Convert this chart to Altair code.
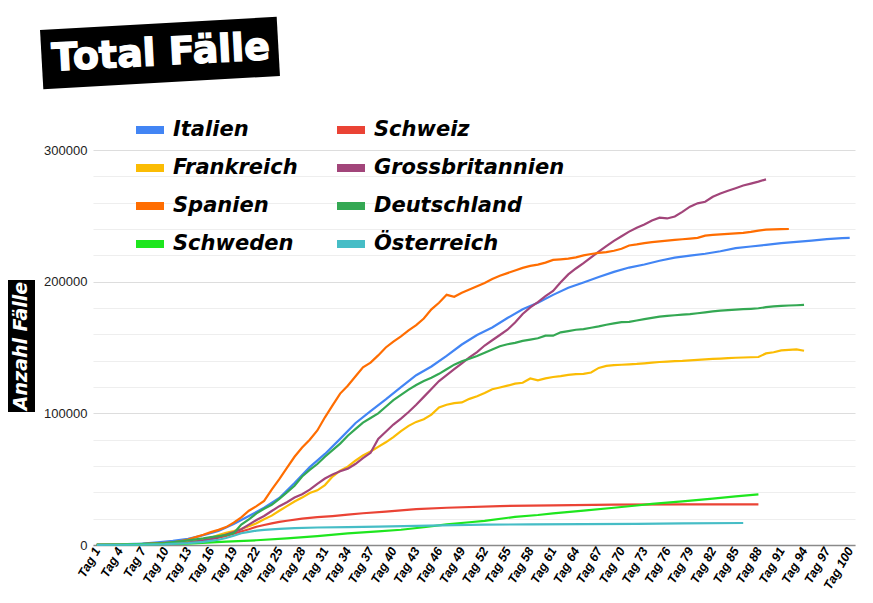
import altair as alt
import pandas as pd

titel = "Total Fälle"
y_titel = "Anzahl Fälle"

# Reihenfolge der Legende: Spalte für Spalte
laender = ["Italien", "Frankreich", "Spanien", "Schweden",
           "Schweiz", "Grossbritannien", "Deutschland", "Österreich"]
farben = ["#4285f4", "#fbbc04", "#ff6d01", "#1ee61e",
          "#ea4335", "#a2457a", "#34a853", "#46bdc6"]

x_ticks = list(range(1, 101, 3))
y_grid = list(range(0, 300001, 20000))

# Werte in Tausend Fällen
italien_tage = [1, 3, 5, 7, 9, 11, 13, 15, 17, 19, 21, 23, 25, 27, 29, 31, 33, 35, 37, 39,
                41, 43, 45, 47, 49, 51, 53, 55, 57, 59, 61, 63, 65, 67, 69, 71, 73, 75, 77, 79,
                81, 83, 85, 87, 89, 91, 93, 95, 97, 99, 100]
italien_tsd = [0.155, 0.322, 0.655, 1.128, 2.036, 3.089, 4.636, 7.375, 10.6, 15.9,
               22.0, 28.3, 35.713, 47.021, 59.138, 69.176, 80.589, 92.472, 101.739, 110.574,
               119.827, 128.948, 135.586, 143.626, 152.271, 159.516, 165.155, 172.434, 178.972, 183.957,
               189.973, 195.351, 199.414, 203.591, 207.428, 210.717, 213.013, 215.858, 218.268, 219.814,
               221.216, 223.096, 225.435, 226.699, 228.006, 229.327, 230.158, 231.139, 232.248, 232.997,
               233.197]

spanien_tage = [1, 4, 7] + list(range(10, 93))
spanien_tsd = [0.12, 0.26, 0.6,
               1.7, 2.1, 3.0, 4.2, 6.0, 7.8, 9.8, 11.5, 13.6, 17.0,
               21.0, 26.0, 29.5, 33.5, 42.0, 50.0, 58.5, 67.0, 74.0, 80.0,
               87.0, 97.0, 106.0, 115.0, 121.0, 128.0, 135.0, 138.5, 144.0, 150.0,
               154.5, 158.5, 163.0, 167.0, 172.0, 179.0, 184.0, 190.0, 188.5, 191.5,
               194.0, 196.5, 199.0, 202.0, 204.5, 206.5, 208.5, 210.5, 212.0, 213.0,
               214.5, 216.5, 217.0, 217.5, 218.5, 220.0, 221.0, 221.8, 222.5, 223.5,
               225.0, 227.5, 228.3, 229.3, 230.0, 230.6, 231.2, 231.7, 232.2, 232.7,
               233.3, 235.0, 235.5, 235.9, 236.3, 236.7, 237.0, 237.8, 238.8, 239.5,
               239.7, 239.9, 240.0]

deutschland_tage = [1, 4, 7, 10, 13, 15] + list(range(16, 95))
deutschland_tsd = [0.13, 0.2, 0.8, 1.5, 3.5, 5.0,
                   6.0, 6.8, 7.6, 9.0, 15.5, 19.5, 24.0, 27.5, 30.5, 35.0,
                   40.0, 45.0, 52.0, 57.0, 61.5, 67.0, 72.0, 77.0, 83.0, 88.0,
                   93.0, 96.5, 100.0, 105.0, 110.0, 114.0, 118.0, 121.5, 124.5, 127.0,
                   130.0, 133.5, 137.0, 139.5, 141.5, 143.5, 146.0, 148.5, 151.0, 152.5,
                   153.5, 155.0, 156.0, 157.0, 159.0, 159.0, 161.5, 162.5, 163.5, 164.0,
                   165.0, 166.0, 167.3, 168.3, 169.2, 169.5, 170.5, 171.5, 172.5, 173.4,
                   174.0, 174.5, 175.0, 175.3, 176.0, 176.7, 177.4, 178.0, 178.4, 178.8,
                   179.1, 179.4, 179.8, 180.6, 181.3, 181.6, 181.9, 182.1, 182.3]

frankreich_tage = [1, 4, 7, 10, 13, 15] + list(range(16, 95))
frankreich_tsd = [0.1, 0.2, 0.5, 1.2, 2.5, 4.5,
                  5.5, 7.5, 9.2, 10.5, 12.2, 14.3, 16.5, 19.5, 22.3, 26.0,
                  29.5, 33.0, 36.0, 39.5, 41.5, 45.5, 52.0, 56.5, 59.5, 64.0,
                  68.0, 71.0, 74.5, 78.0, 82.0, 86.5, 90.5, 93.5, 95.5, 99.0,
                  104.5, 106.5, 107.8, 108.3, 111.0, 113.0, 115.5, 118.3, 119.6, 121.0,
                  122.5, 123.2, 126.5, 125.0, 126.5, 127.6, 128.3, 129.2, 129.8, 130.0,
                  131.0, 134.5, 136.0, 136.6, 136.9, 137.2, 137.5, 138.0, 138.5, 139.0,
                  139.3, 139.6, 139.8, 140.2, 140.6, 141.0, 141.3, 141.6, 142.0, 142.2,
                  142.4, 142.6, 142.8, 145.5, 146.4, 147.8, 148.2, 148.6, 147.5]

gb_tage = [1, 4, 7, 10, 13, 15] + list(range(16, 90))
gb_tsd = [0.1, 0.2, 0.4, 0.8, 1.8, 3.5,
          4.5, 6.0, 8.0, 9.8, 12.0, 15.5, 19.0, 22.0, 25.8, 29.5,
          32.5, 36.0, 38.5, 42.0, 46.5, 50.5, 53.5, 56.0, 58.0, 61.5,
          66.0, 70.0, 80.5, 86.0, 91.5, 96.0, 101.0, 106.5, 112.5, 118.5,
          124.5, 129.0, 133.5, 138.0, 142.5, 146.5, 151.5, 155.5, 159.5, 163.5,
          169.0, 175.5, 180.5, 184.5, 189.0, 193.0, 199.5, 205.5, 210.0, 214.0,
          218.5, 222.8, 227.0, 231.0, 234.5, 238.0, 241.0, 243.5, 246.5, 248.6,
          248.0, 249.5, 253.0, 257.0, 259.5, 260.7, 264.5, 267.0, 269.0, 271.0,
          273.0, 274.5, 276.0, 277.7]

schweiz_tage = [1, 4, 7, 10, 13, 15, 16, 17, 18, 19, 20, 21, 22, 23, 24,
                25, 26, 28, 30, 32, 34, 36, 39, 43, 47, 54, 61, 69, 78, 88]
schweiz_tsd = [0.1, 0.3, 0.6, 1.2, 2.5, 3.8, 4.7, 5.6, 6.8, 8.5, 10.3, 12.0, 13.9, 15.2, 16.4,
               17.6, 18.4, 20.0, 21.1, 22.0, 23.0, 24.1, 25.4, 27.2, 28.3, 29.6, 30.1, 30.6, 30.9, 30.9]

schweden_tage = [1, 7, 13, 18, 22, 26, 30, 34, 38, 41, 44, 47, 50, 52, 56,
                 59, 61, 65, 69, 72, 74, 78, 82, 85, 88]
schweden_tsd = [0.1, 0.4, 1.0, 2.5, 3.6, 5.0, 6.8, 8.9, 10.3, 11.6, 13.5, 15.6, 17.3, 18.3, 21.4,
                22.8, 24.0, 26.1, 28.3, 30.0, 31.3, 33.1, 35.2, 37.0, 38.5]

oesterreich_tage = [1, 7, 10, 13, 15, 17, 18, 19, 20, 21, 22, 23, 25, 27, 30,
                    34, 38, 43, 48, 52, 58, 65, 72, 78, 86]
oesterreich_tsd = [0.1, 0.3, 0.6, 1.4, 2.4, 4.0, 5.3, 7.0, 8.9, 10.0, 10.9, 11.5, 12.3, 12.8, 13.3,
                   13.6, 14.0, 14.6, 15.1, 15.4, 15.7, 15.9, 16.1, 16.4, 16.7]

serien = {
    "Italien": (italien_tage, italien_tsd),
    "Schweiz": (schweiz_tage, schweiz_tsd),
    "Frankreich": (frankreich_tage, frankreich_tsd),
    "Grossbritannien": (gb_tage, gb_tsd),
    "Spanien": (spanien_tage, spanien_tsd),
    "Deutschland": (deutschland_tage, deutschland_tsd),
    "Schweden": (schweden_tage, schweden_tsd),
    "Österreich": (oesterreich_tage, oesterreich_tsd),
}

rows = []
for land, (tage, werte) in serien.items():
    assert len(tage) == len(werte), land
    for t, w in zip(tage, werte):
        rows.append({"Land": land, "Tag": t, "Faelle": round(w * 1000)})
df = pd.DataFrame(rows)

lines = alt.Chart(df).mark_line(strokeWidth=2.2).encode(
    x=alt.X("Tag:Q",
            scale=alt.Scale(domain=[0.5, 100.7], nice=False, zero=False),
            axis=alt.Axis(values=x_ticks, labelExpr="'Tag ' + datum.value",
                          labelAngle=300, labelAlign="right", labelBaseline="middle",
                          labelFont="Liberation Sans", labelFontSize=12.5,
                          labelFontWeight="bold", labelFontStyle="italic",
                          labelColor="black", grid=False, ticks=False,
                          domainColor="#8a8a8a", domainWidth=1.5, title=None,
                          labelPadding=3, labelOverlap=False, labelFlush=False)),
    y=alt.Y("Faelle:Q",
            scale=alt.Scale(domain=[0, 300000], nice=False),
            axis=alt.Axis(values=y_grid,
                          labelExpr="datum.value % 100000 == 0 ? datum.label : ''",
                          format="d", title=None, domain=False, ticks=False,
                          labelFont="Liberation Sans", labelFontSize=13,
                          labelColor="#222222", labelPadding=6,
                          gridColor=alt.condition("datum.value % 100000 == 0",
                                                  alt.value("#dddddd"), alt.value("#eeeeee")),
                          gridWidth=1.2)),
    color=alt.Color("Land:N",
                    scale=alt.Scale(domain=laender, range=farben),
                    sort=laender,
                    legend=alt.Legend(title=None, orient="none", legendX=39, legendY=-38,
                                      columns=2, symbolType="stroke", symbolStrokeWidth=8,
                                      symbolSize=784, labelFont="DejaVu Sans",
                                      labelFontSize=21, labelFontWeight="bold",
                                      labelFontStyle="italic", labelColor="black",
                                      rowPadding=4, columnPadding=23, labelOffset=5,
                                      labelLimit=400)),
)

titel_df = pd.DataFrame({"t": [titel]})
titel_box = alt.Chart(titel_df).mark_point(
    shape="M-1,-0.25L1,-0.25L1,0.25L-1,0.25Z", size=56169, filled=True,
    color="black", opacity=1, angle=356.8, strokeWidth=0
).encode(x=alt.value(67), y=alt.value(-97))
titel_text = alt.Chart(titel_df).mark_text(
    angle=357, font="DejaVu Sans", fontSize=38, fontWeight="bold", color="white",
    stroke="white", strokeWidth=1.4, align="center", baseline="middle"
).encode(x=alt.value(68), y=alt.value(-96), text="t:N")

ytitel_df = pd.DataFrame({"t": [y_titel]})
ytitel_box = alt.Chart(ytitel_df).mark_rect(color="black").encode(
    x=alt.value(-87), x2=alt.value(-58), y=alt.value(130), y2=alt.value(262))
ytitel_text = alt.Chart(ytitel_df).mark_text(
    angle=270, font="DejaVu Sans", fontSize=19, fontWeight="bold", fontStyle="italic",
    color="white", align="center", baseline="middle"
).encode(x=alt.value(-72), y=alt.value(196), text="t:N")

chart = alt.layer(lines, titel_box, titel_text, ytitel_box, ytitel_text).properties(
    width=762, height=395,
    padding={"left": 85, "top": 142, "right": 10, "bottom": 50},
    autosize=alt.AutoSizeParams(type="none"),
    background="white",
).configure_view(stroke=None)

chart.save("out.html", embed_options={"renderer": "svg", "actions": False})
